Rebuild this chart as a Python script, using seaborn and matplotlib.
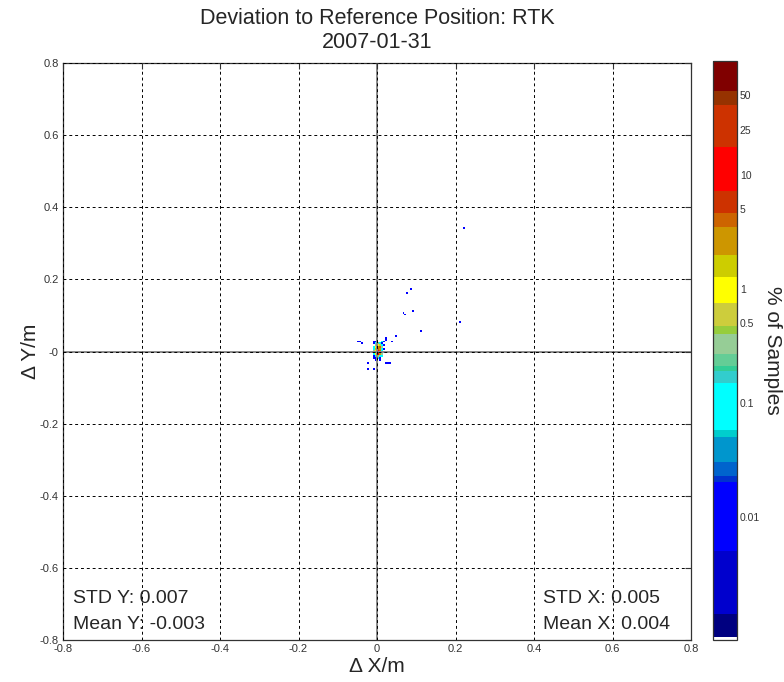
import numpy as np
import matplotlib
matplotlib.use("Agg")
import matplotlib.pyplot as plt
import seaborn as sns
from matplotlib.colors import ListedColormap, LogNorm

# ---------------- data (cell centres in m, value = % of samples) ----------------
# dense cluster around the reference position: columns (x) and rows (y)
cluster_cols = [-0.0075, -0.0025, 0.0025, 0.0075, 0.0125, 0.0175]
cluster_rows = [0.0275, 0.0225, 0.0175, 0.0125, 0.0075, 0.0025,
                -0.0025, -0.0075, -0.0125, -0.0175, -0.0225]
cluster_pct = [
    [0.01, 0.015, 0.0, 0.0, 0.08, 0.01],
    [0.015, 0.1, 0.25, 0.12, 0.015, 0.0],
    [0.0, 0.3, 1.1, 0.6, 0.1, 0.01],
    [0.1, 0.8, 2.2, 3.8, 0.3, 0.0],
    [0.12, 1.5, 4.2, 2.5, 0.12, 0.01],
    [0.3, 1.2, 12.0, 4.0, 0.1, 0.0],
    [0.12, 4.0, 45.0, 9.0, 0.015, 0.01],
    [0.1, 1.2, 8.0, 3.5, 0.3, 0.0],
    [0.02, 0.15, 0.5, 0.12, 0.1, 0.0],
    [0.015, 0.02, 0.1, 0.015, 0.0, 0.0],
    [0.0, 0.015, 0.0, 0.01, 0.0, 0.0],
]

# isolated single-sample cells
outlier_x = [0.2225, 0.0875, 0.0775, 0.0925, 0.0675, 0.0725, 0.2125, 0.1125,
             0.0475, 0.0225, -0.0475, -0.0425, -0.0375, 0.0375, 0.0225,
             -0.0225, 0.0225, 0.0275, 0.0325, -0.0225, -0.0075]
outlier_y = [0.3425, 0.1725, 0.1625, 0.1125, 0.1075, 0.1025, 0.0825, 0.0575,
             0.0425, 0.0375, 0.0275, 0.0275, 0.0225, 0.0275, 0.0325,
             -0.0325, -0.0325, -0.0325, -0.0325, -0.0475, -0.0475]
outlier_pct = [0.01] * len(outlier_x)

# colour bands of the colour scale (% of samples)
band_edges = [0.00083, 0.00089, 0.0014, 0.005, 0.02, 0.023, 0.03, 0.05, 0.058,
              0.15, 0.19, 0.21, 0.27, 0.4, 0.47, 0.75, 1.27, 2.0, 3.5, 4.6,
              7.2, 17.6, 41.0, 54.6, 100.0]
band_colors = ["#ffffff", "#000080", "#0000cd", "#0000ff", "#0032cd", "#0064cd",
               "#0096cd", "#00cdcd", "#00ffff", "#32cdcd", "#32cd96", "#64cd96",
               "#96cd96", "#96cd3c", "#cdcd3c", "#ffff00", "#cdcd00", "#cd9600",
               "#cd6400", "#cd3200", "#ff0000", "#cd3200", "#963200", "#800000"]

cbar_ticks = [0.01, 0.1, 0.5, 1, 5, 10, 25, 50]
cbar_ticklabels = ["0.01", "0.1", "0.5", "1", "5", "10", "25", "50"]
x_ticks = [-0.8, -0.6, -0.4, -0.2, 0.0, 0.2, 0.4, 0.6, 0.8]
x_ticklabels = ["-0.8", "-0.6", "-0.4", "-0.2", "0", "0.2", "0.4", "0.6", "0.8"]
y_ticks = [-0.8, -0.6, -0.4, -0.2, 0.0, 0.2, 0.4, 0.6, 0.8]
y_ticklabels = ["-0.8", "-0.6", "-0.4", "-0.2", "-0", "0.2", "0.4", "0.6", "0.8"]

title = "Deviation to Reference Position: RTK\n2007-01-31"
stats_left = ["STD Y: 0.007", "Mean Y: -0.003"]
stats_right = ["STD X: 0.005", "Mean X: 0.004"]

# ---------------- figure ----------------
sns.set_style("white")
plt.rcParams["font.family"] = ["Liberation Sans", "DejaVu Sans"]

fig = plt.figure(figsize=(7.84, 6.82), dpi=100)
W, H = 784, 682
ax = fig.add_axes([63 / W, 42 / H, 628 / W, 577 / H])
cax = fig.add_axes([713 / W, 42 / H, 24 / W, 579 / H])

all_x, all_y, all_w = [], [], []
for yv, row in zip(cluster_rows, cluster_pct):
    for xv, pv in zip(cluster_cols, row):
        if pv > 0:
            all_x.append(xv)
            all_y.append(yv)
            all_w.append(pv)
all_x += outlier_x
all_y += outlier_y
all_w += outlier_pct

sns.histplot(x=all_x, y=all_y, weights=all_w, binwidth=0.005,
             binrange=((-0.8, 0.8), (-0.8, 0.8)), ax=ax, cbar=False)

# stepped colormap on a log scale
vmin, vmax = band_edges[0], band_edges[-1]
samples = np.logspace(np.log10(vmin), np.log10(vmax), 2400)
mids = np.sqrt(samples[:-1] * samples[1:])
idx = np.clip(np.searchsorted(band_edges, mids) - 1, 0, len(band_colors) - 1)
cmap = ListedColormap([band_colors[i] for i in idx])
norm = LogNorm(vmin=vmin, vmax=vmax)

mesh = ax.collections[0]
mesh.set_cmap(cmap)
mesh.set_norm(norm)
mesh.set_clim(vmin, vmax)
mesh.set_antialiased(False)
mesh.set_linewidth(0)

ax.set_xlim(-0.8, 0.8)
ax.set_ylim(-0.8, 0.8)
ax.set_xticks(x_ticks)
ax.set_xticklabels(x_ticklabels)
ax.set_yticks(y_ticks)
ax.set_yticklabels(y_ticklabels)
ax.tick_params(direction="in", length=4, top=True, right=True,
               labelsize=8, colors="#333333", pad=3)
ax.set_axisbelow(False)
ax.grid(True, color="black", linestyle=(0, (3, 3)), linewidth=0.7)
ax.axhline(0, color="#8a8a8a", lw=1.4, zorder=2)
ax.axvline(0, color="#8a8a8a", lw=1.4, zorder=2)
for s in ax.spines.values():
    s.set_color("#333333")
    s.set_linewidth(0.9)

ax.set_xlabel("\u0394 X/m", fontsize=15, labelpad=2)
ax.set_ylabel("\u0394 Y/m", fontsize=15, labelpad=0)
ax.set_title(title, fontsize=15.5, pad=11, linespacing=1.2)

ax.text(-0.775, -0.684, stats_left[0], fontsize=14, va="center", ha="left")
ax.text(-0.775, -0.758, stats_left[1], fontsize=14, va="center", ha="left")
ax.text(0.422, -0.684, stats_right[0], fontsize=14, va="center", ha="left")
ax.text(0.422, -0.758, stats_right[1], fontsize=14, va="center", ha="left")

cb = fig.colorbar(mesh, cax=cax)
cb.set_ticks(cbar_ticks)
cb.set_ticklabels(cbar_ticklabels)
cb.minorticks_off()
cax.tick_params(direction="in", length=4, left=True, right=True,
                labelsize=7.5, colors="#333333", pad=2)
cb.outline.set_edgecolor("#333333")
cb.outline.set_linewidth(0.9)
cb.set_label("% of Samples", rotation=270, fontsize=15, labelpad=16)

fig.savefig("out.png", dpi=100)
